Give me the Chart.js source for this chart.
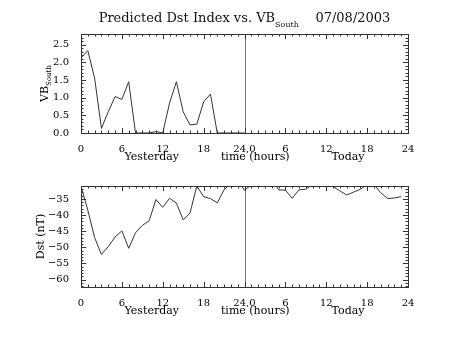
<!DOCTYPE html>
<html>
<head>
<meta charset="utf-8">
<script src="https://cdn.jsdelivr.net/npm/chart.js@4.4.0/dist/chart.umd.min.js"></script>
<style>
  html, body { margin: 0; padding: 0; background: #fff; }
  #wrap { position: relative; width: 453px; height: 340px; }
  canvas { position: absolute; left: 0; }
</style>
</head>
<body>
<div id="wrap">
  <canvas id="vbChart" width="453" height="170" style="top:0"></canvas>
  <canvas id="dstChart" width="453" height="154" style="top:170px"></canvas>
</div>
<script>
// hours since start of yesterday (0..48)
const hours = [0, 1, 2, 3, 4, 5, 6, 7, 8, 9, 10, 11, 12, 13, 14, 15, 16, 17, 18, 19, 20, 21, 22, 23, 24,
  25, 26, 27, 28, 29, 30, 31, 32, 33, 34, 35, 36, 37, 38, 39, 40, 41, 42, 43, 44, 45, 46, 47, 48];

// VB south (only yesterday available)
const vbSouth = [2.12, 2.33, 1.55, 0.13, 0.6, 1.03, 0.95, 1.45, 0, 0, 0, 0.04, 0, 0.85, 1.45, 0.6, 0.23, 0.25, 0.88, 1.1, 0, 0, 0, 0, 0,
  null, null, null, null, null, null, null, null, null, null, null, null, null, null, null, null, null, null, null, null, null, null, null, null];

// predicted Dst (nT); values above the plot top are clipped like the original
const dst = [-31, -38.5, -47, -52.2, -49.8, -46.8, -44.9, -50.3, -45.5, -43.2, -41.8, -35.2, -37.6, -34.8, -36.3, -41.5, -39.4, -31, -34.3, -34.9, -36.2, -32.2, -30.2, -29.2, -32.3,
  -30.7, -29, -29, -28.2, -32.2, -32.3, -34.8, -32.2, -32, -30.5, -29.5, -30, -31.2, -32.5, -33.8, -32.9, -32, -30.5, -30.5, -33.1, -34.9, -34.7, -34.3, null];

const xTickLabels = ["0", "6", "12", "18", "24,0", "6", "12", "18", "24"];
const vbTicks = [0, 0.5, 1, 1.5, 2, 2.5];
const dstTicks = [-35, -40, -45, -50, -55, -60];

const FONT = '"DejaVu Serif", serif';
const INK = "#333";
const X_TITLE = "Yesterday            time (hours)            Today";

function toPoints(vals) {
  return hours.map((h, i) => ({ x: h, y: vals[i] }));
}

// frame, inward IDL-style ticks and the divider at 24h
const idlFrame = {
  id: "idlFrame",
  beforeDatasetsDraw(chart, args, opts) {
    const { ctx, chartArea: a } = chart;
    const x = chart.scales.x;
    ctx.save();
    ctx.strokeStyle = "#777";
    ctx.lineWidth = 1;
    const px = Math.round(x.getPixelForValue(24)) + 0.5;
    ctx.beginPath();
    ctx.moveTo(px, a.top);
    ctx.lineTo(px, a.bottom);
    ctx.stroke();
    ctx.restore();
  },
  afterDraw(chart, args, opts) {
    const { ctx, chartArea: a } = chart;
    const x = chart.scales.x, y = chart.scales.y;
    ctx.save();
    ctx.strokeStyle = INK;
    ctx.lineWidth = 1;
    ctx.strokeRect(Math.round(a.left) + 0.5, Math.round(a.top) + 0.5,
      Math.round(a.right - a.left), Math.round(a.bottom - a.top));
    ctx.beginPath();
    for (let h = 0; h <= 48; h++) {
      const len = h % 6 === 0 ? 5 : 2.5;
      const p = Math.round(x.getPixelForValue(h)) + 0.5;
      ctx.moveTo(p, a.bottom); ctx.lineTo(p, a.bottom - len);
      ctx.moveTo(p, a.top); ctx.lineTo(p, a.top + len);
    }
    const step = opts.minor;
    const n0 = Math.ceil(y.min / step - 1e-6), n1 = Math.floor(y.max / step + 1e-6);
    for (let k = n0; k <= n1; k++) {
      const v = k * step;
      const major = Math.abs(v / opts.major - Math.round(v / opts.major)) < 1e-6;
      const len = major ? 5 : 2.5;
      const p = Math.round(y.getPixelForValue(v)) + 0.5;
      ctx.moveTo(a.left, p); ctx.lineTo(a.left + len, p);
      ctx.moveTo(a.right, p); ctx.lineTo(a.right - len, p);
    }
    ctx.stroke();

    // rotated y title with optional subscript
    const cx = opts.titleX, cy = (a.top + a.bottom) / 2;
    ctx.translate(cx, cy);
    ctx.rotate(-Math.PI / 2);
    ctx.fillStyle = "#000";
    ctx.textBaseline = "alphabetic";
    ctx.font = "11px " + FONT;
    const w1 = ctx.measureText(opts.yTitle).width;
    ctx.font = "7px " + FONT;
    const w2 = opts.ySub ? ctx.measureText(opts.ySub).width : 0;
    const start = -(w1 + w2) / 2;
    ctx.font = "11px " + FONT;
    ctx.fillText(opts.yTitle, start, 4);
    if (opts.ySub) {
      ctx.font = "7px " + FONT;
      ctx.fillText(opts.ySub, start + w1, 7);
    }
    ctx.restore();

    if (opts.mainTitle) {
      ctx.save();
      ctx.fillStyle = "#111";
      ctx.textBaseline = "alphabetic";
      const t1 = "Predicted Dst Index vs. VB", t2 = "South", t3 = "    07/08/2003";
      ctx.font = "13px " + FONT;
      const a1 = ctx.measureText(t1).width, a3 = ctx.measureText(t3).width;
      ctx.font = "8px " + FONT;
      const a2 = ctx.measureText(t2).width;
      let sx = (a.left + a.right) / 2 - (a1 + a2 + a3) / 2;
      ctx.font = "13px " + FONT;
      ctx.fillText(t1, sx, 22);
      ctx.font = "8px " + FONT;
      ctx.fillText(t2, sx + a1, 27);
      ctx.font = "13px " + FONT;
      ctx.fillText(t3, sx + a1 + a2, 22);
      ctx.restore();
    }
  }
};

function makeChart(id, vals, cfg) {
  return new Chart(document.getElementById(id), {
    type: "line",
    data: {
      datasets: [{
        data: toPoints(vals),
        borderColor: "#333",
        borderWidth: 1,
        pointRadius: 0,
        tension: 0,
        spanGaps: false,
        clip: { left: 0, top: 0, right: 0, bottom: 1 }
      }]
    },
    options: {
      responsive: false,
      animation: false,
      events: [],
      layout: { padding: { top: cfg.top, right: 45, left: 0, bottom: 0 } },
      plugins: {
        legend: { display: false },
        tooltip: { enabled: false },
        idlFrame: cfg.frame
      },
      scales: {
        x: {
          type: "linear",
          min: 0,
          max: 48,
          grid: { display: false },
          border: { display: false },
          afterBuildTicks: (s) => { s.ticks = [0, 6, 12, 18, 24, 30, 36, 42, 48].map((v) => ({ value: v })); },
          ticks: {
            autoSkip: false,
            maxRotation: 0,
            padding: 2,
            color: "#000",
            font: { family: FONT, size: 10 },
            callback: (v) => xTickLabels[Math.round(v / 6)]
          },
          title: {
            display: true,
            text: X_TITLE,
            color: "#000",
            font: { family: FONT, size: 11 },
            padding: { top: 0, bottom: 6 }
          },
          afterFit: (s) => { s.height = 37; }
        },
        y: {
          min: cfg.min,
          max: cfg.max,
          grid: { display: false },
          border: { display: false },
          afterBuildTicks: (s) => { s.ticks = cfg.ticks.map((v) => ({ value: v })); },
          ticks: {
            padding: 4,
            color: "#000",
            font: { family: FONT, size: 10 },
            callback: cfg.fmt
          },
          afterFit: (s) => { s.width = 81; }
        }
      }
    },
    plugins: [idlFrame]
  });
}

makeChart("vbChart", vbSouth, {
  top: 34, min: 0, max: 2.8, ticks: vbTicks,
  fmt: (v) => v.toFixed(1),
  frame: { minor: 0.1, major: 0.5, yTitle: "VB", ySub: "South", titleX: 44, mainTitle: true }
});

makeChart("dstChart", dst, {
  top: 16, min: -62.3, max: -31, ticks: dstTicks,
  fmt: (v) => "\u2212" + Math.abs(v),
  frame: { minor: 1, major: 5, yTitle: "Dst (nT)", ySub: "", titleX: 40, mainTitle: false }
});
</script>
</body>
</html>
